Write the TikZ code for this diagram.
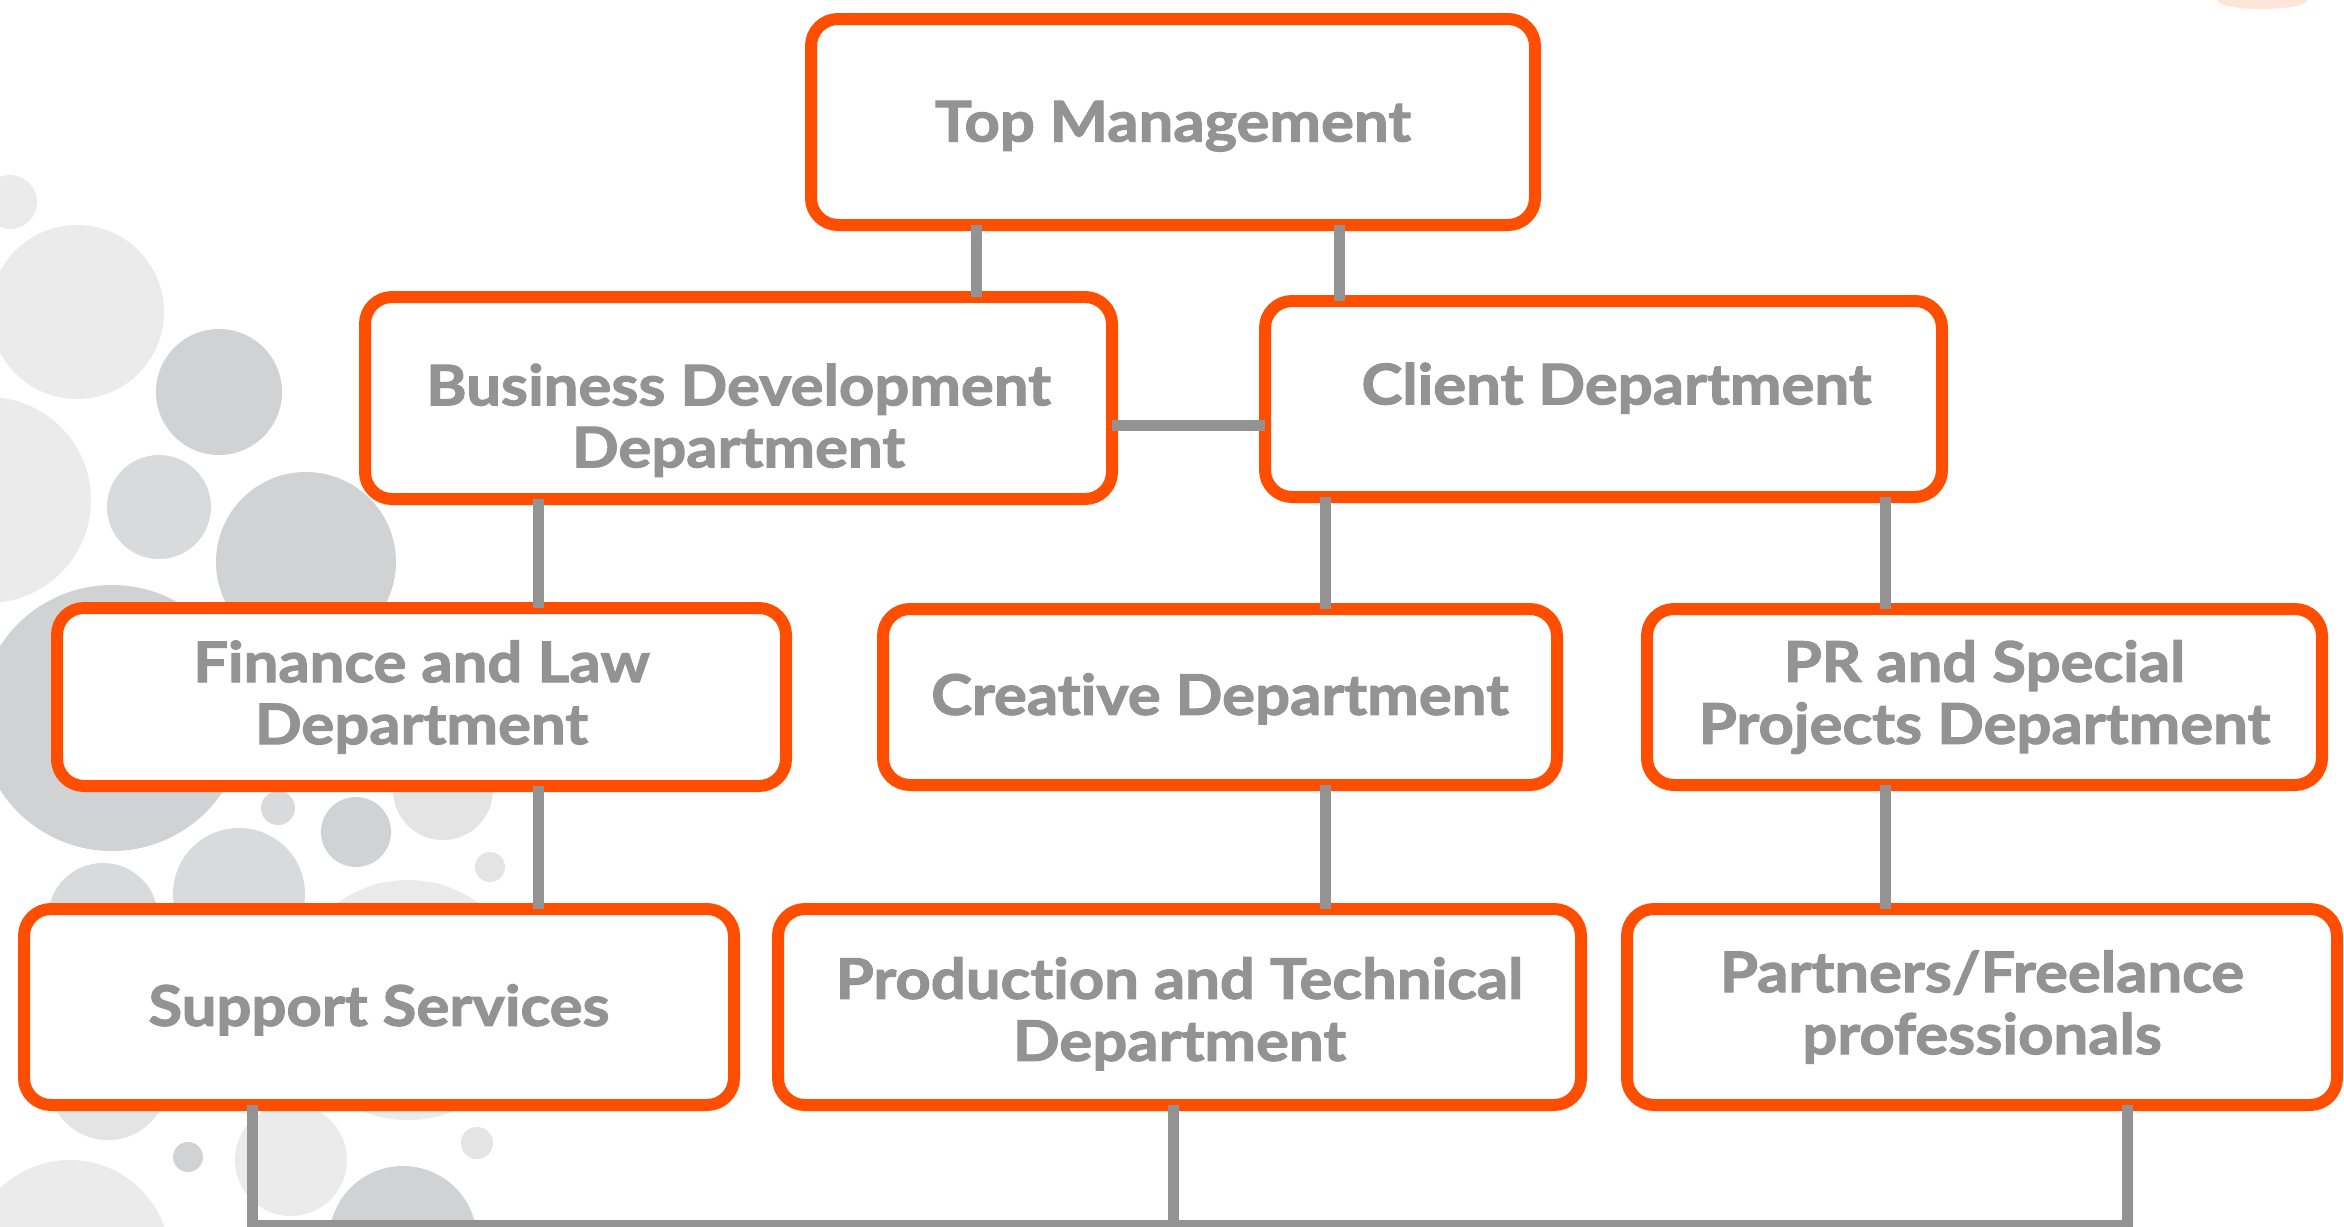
\documentclass[tikz,border=0pt]{standalone}
\usepackage{fontspec}
\setmainfont{Lato}[FakeStretch=1.1, Ligatures=NoCommon, BoldFeatures={FakeBold=2}]
\definecolor{boxorange}{HTML}{FF4E00}
\definecolor{txtgray}{HTML}{939393}
\definecolor{bubA}{HTML}{EBEBEB}
\definecolor{bubB}{HTML}{E4E4E5}
\definecolor{bubC}{HTML}{D9DADB}
\definecolor{bubD}{HTML}{D1D2D4}
\newcommand{\upby}[1]{\rule[-#1pt]{0pt}{0pt}}
\newcommand{\downto}[1]{\rule{0pt}{#1pt}}
\begin{document}
\begin{tikzpicture}[x=1pt,y=-1pt,
  box/.style={draw=boxorange, line width=12pt, fill=white, rounded corners=27pt,
    outer sep=0pt, inner sep=0pt, text=txtgray, align=center,
    font=\bfseries\fontsize{56}{62}\selectfont},
  conn/.style={draw=txtgray, line width=11pt},
  bub/.style={fill=#1, draw=none}]
\useasboundingbox (0,0) rectangle (2344,1226);
\clip (0,0) rectangle (2344,1226);
\fill[white] (0,0) rectangle (2344,1226);
% background bubbles (light)
\fill[bub=bubA] (10,202) circle (27);
\fill[bub=bubA] (77,312) circle (87);
\fill[bub=bubA] (-12,500) circle (103);
\fill[bub=bubB] (443,790) circle (50);
\fill[bub=bubB] (490,867) circle (15);
\fill[bub=bubA] (408,1000) circle (120);
\fill[bub=bubB] (108,1080) circle (60);
\fill[bub=bubA] (291,1160) circle (56);
\fill[bub=bubB] (477,1143) circle (16);
\fill[bub=bubA] (70,1260) circle (100);
% background bubbles (grey)
\fill[bub=bubD] (219,392) circle (63);
\fill[bub=bubC] (159,507) circle (52);
\fill[bub=bubD] (306,562) circle (90);
\fill[bub=bubD] (112,718) circle (133);
\fill[bub=bubC] (278,808) circle (17);
\fill[bub=bubD] (356,832) circle (35);
\fill[bub=bubC] (239,894) circle (66);
\fill[bub=bubC] (103,918) circle (55);
\fill[bub=bubD] (188,1157) circle (15);
\fill[bub=bubD] (403,1240) circle (74);
% faint logo remnant top right
\fill[boxorange, opacity=0.15] (2262,0) ellipse (45 and 9);

% boxes
\node[box, minimum width=724pt, minimum height=206pt] (tm) at (1173,122) {\downto{49}Top Management};
\node[box, minimum width=747pt, minimum height=202pt] (bd) at (738.5,398) {\downto{86}Business Development\\Department};
\node[box, minimum width=677pt, minimum height=196pt] (cd) at (1603.5,399) {\hspace*{26pt}Client Department\upby{31}};
\node[box, minimum width=729pt, minimum height=178pt] (fl) at (421.5,697) {Finance and Law\\Department};
\node[box, minimum width=674pt, minimum height=176pt] (cr) at (1220,697) {\downto{45}Creative Department};
\node[box, minimum width=675pt, minimum height=176pt] (pr) at (1984.5,697) {PR and Special\\Projects Department};
\node[box, minimum width=710pt, minimum height=196pt] (ss) at (379,1007) {\downto{47}Support Services};
\node[box, minimum width=803pt, minimum height=196pt] (pt) at (1179.5,1007) {\downto{55}Production and Technical\\Department};
\node[box, minimum width=710pt, minimum height=196pt] (pf) at (1982,1007) {Partners/Freelance\\professionals};

% connector x positions
\coordinate (xa) at (976,0);
\coordinate (xb) at (1339,0);
\coordinate (xc) at (538,0);
\coordinate (xd) at (1325,0);
\coordinate (xe) at (1885,0);
\coordinate (hy) at (0,425);
\coordinate (busL) at (252,1225);
\coordinate (busM) at (1173,1225);
\coordinate (busR) at (2127,1225);

\draw[conn] (tm.south -| xa) -- (bd.north -| xa);
\draw[conn] (tm.south -| xb) -- (cd.north -| xb);
\draw[conn] (bd.east |- hy) -- (cd.west |- hy);
\draw[conn] (bd.south -| xc) -- (fl.north -| xc);
\draw[conn] (fl.south -| xc) -- (ss.north -| xc);
\draw[conn] (cd.south -| xd) -- (cr.north -| xd);
\draw[conn] (cr.south -| xd) -- (pt.north -| xd);
\draw[conn] (cd.south -| xe) -- (pr.north -| xe);
\draw[conn] (pr.south -| xe) -- (pf.north -| xe);
\draw[conn] (ss.south -| busL) -- (busL) -- (busR) -- (pf.south -| busR);
\draw[conn] (pt.south -| busM) -- (busM);
\end{tikzpicture}
\end{document}
